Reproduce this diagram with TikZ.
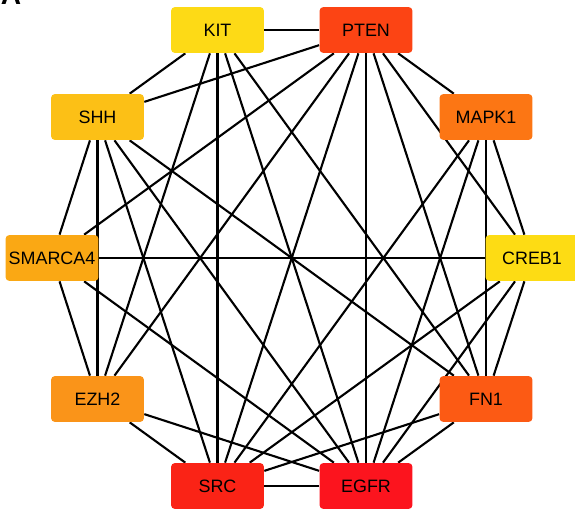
\documentclass[tikz,border=0pt]{standalone}
\usepackage{fontspec}
\setmainfont{Liberation Sans}
\usetikzlibrary{backgrounds,positioning}

\definecolor{cKIT}{RGB}{253,218,22}
\definecolor{cPTEN}{RGB}{252,68,20}
\definecolor{cMAPK}{RGB}{252,118,20}
\definecolor{cCREB}{RGB}{253,220,20}
\definecolor{cFN}{RGB}{252,90,20}
\definecolor{cEGFR}{RGB}{252,20,30}
\definecolor{cSRC}{RGB}{250,35,22}
\definecolor{cEZH}{RGB}{250,148,25}
\definecolor{cSMARCA}{RGB}{250,168,20}
\definecolor{cSHH}{RGB}{252,192,22}

\begin{document}
\begin{tikzpicture}[x=0.02cm,y=-0.02cm,
gene/.style={draw=none,rounded corners=0.08cm,minimum width=1.86cm,minimum height=0.92cm,inner sep=0pt,font=\fontsize{10.2}{12}\selectfont},
link/.style={line width=1.2pt,black}]

\useasboundingbox (0,0) rectangle (575,510);
\clip (0,0) rectangle (575,510);

\node[font=\fontsize{16}{18}\selectfont\bfseries,anchor=base] (lbl) at (11,5) {A};

\node[gene,fill=cKIT] (kit) at (217.5,30) {KIT};
\node[gene,fill=cPTEN] (pten) at (366,30) {PTEN};
\node[gene,fill=cMAPK] (mapk) at (486,117) {MAPK1};
\node[gene,fill=cCREB] (creb) at (532,258) {CREB1};
\node[gene,fill=cFN] (fn) at (486,399) {FN1};
\node[gene,fill=cEGFR] (egfr) at (366,486) {EGFR};
\node[gene,fill=cSRC] (src) at (217.5,486) {SRC};
\node[gene,fill=cEZH] (ezh) at (97.5,399) {EZH2};
\node[gene,fill=cSMARCA] (smarca) at (52,258) {SMARCA4};
\node[gene,fill=cSHH] (shh) at (97.5,117) {SHH};

\begin{scope}[on background layer]
\draw[link] (kit) -- (pten);
\draw[link] (kit) -- (shh);
\draw[link] (kit) -- (ezh);
\draw[link] (kit) -- (src);
\draw[link] (kit) -- (egfr);
\draw[link] (kit) -- (fn);

\draw[link] (pten) -- (shh);
\draw[link] (pten) -- (smarca);
\draw[link] (pten) -- (ezh);
\draw[link] (pten) -- (src);
\draw[link] (pten) -- (egfr);
\draw[link] (pten) -- (fn);
\draw[link] (pten) -- (creb);
\draw[link] (pten) -- (mapk);

\draw[link] (mapk) -- (creb);
\draw[link] (mapk) -- (fn);
\draw[link] (mapk) -- (egfr);
\draw[link] (mapk) -- (src);

\draw[link] (creb) -- (smarca);
\draw[link] (creb) -- (fn);
\draw[link] (creb) -- (egfr);
\draw[link] (creb) -- (src);

\draw[link] (fn) -- (shh);
\draw[link] (fn) -- (egfr);
\draw[link] (fn) -- (src);

\draw[link] (egfr) -- (src);
\draw[link] (egfr) -- (ezh);
\draw[link] (egfr) -- (shh);
\draw[link] (egfr) -- (smarca);

\draw[link] (src) -- (ezh);
\draw[link] (src) -- (shh);

\draw[link] (ezh) -- (smarca);
\draw[link] (ezh) -- (shh);
\draw[link] (smarca) -- (shh);
\end{scope}

\end{tikzpicture}
\end{document}
